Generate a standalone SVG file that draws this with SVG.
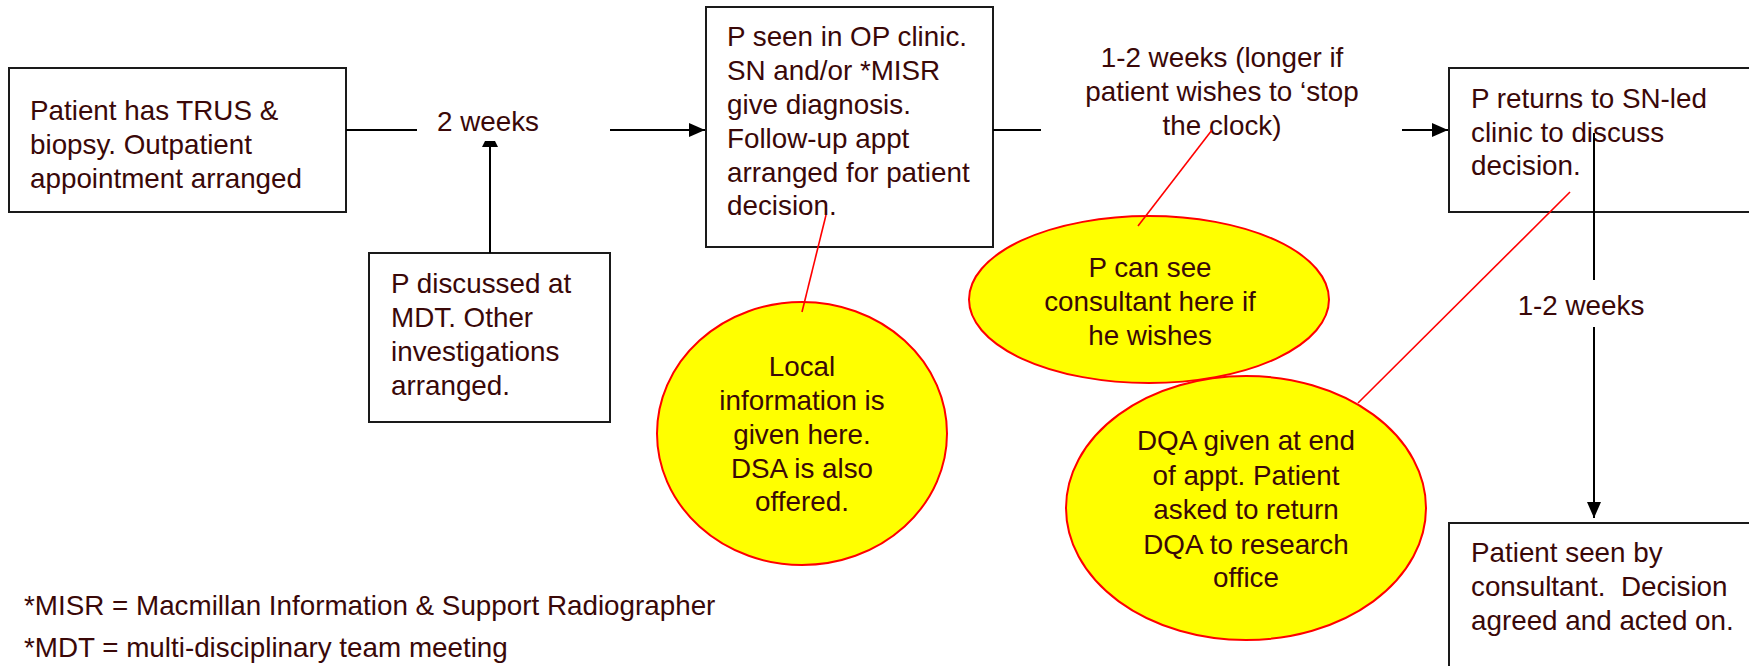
<svg xmlns="http://www.w3.org/2000/svg" width="1749" height="666" viewBox="0 0 1749 666">
  <style>
    text { font-family: "Liberation Sans", Arial, sans-serif; font-size: 27.8px; fill: #3a0808; white-space: pre; }
    .mid { text-anchor: middle; }
    .box { fill: #ffffff; stroke: #1a1a1a; stroke-width: 2; }
    .bubble { fill: #ffff00; stroke: #ff0000; stroke-width: 2; }
    .flow { fill: none; stroke: #000000; stroke-width: 2; }
    .callout { fill: none; stroke: #ff0000; stroke-width: 1.6; }
  </style>
  <defs>
    <marker id="arrow" viewBox="0 0 16 14" refX="16" refY="7" markerWidth="16" markerHeight="14" markerUnits="userSpaceOnUse" orient="auto">
      <path d="M0,0 L16,7 L0,14 Z" fill="#000000"/>
    </marker>
    <marker id="stub" viewBox="0 0 6 16" refX="6" refY="8" markerWidth="6" markerHeight="16" markerUnits="userSpaceOnUse" orient="auto">
      <path d="M0,0 L6,3 L6,13 L0,16 Z" fill="#000000"/>
    </marker>
  </defs>

  <rect width="1749" height="666" fill="#ffffff"/>

  <!-- process boxes -->
  <g id="biopsy">
    <rect class="box" x="9" y="68" width="337" height="144"/>
    <text x="30" y="120">Patient has TRUS &amp;</text>
    <text x="30" y="154">biopsy. Outpatient</text>
    <text x="30" y="188">appointment arranged</text>
  </g>

  <g id="mdt">
    <rect class="box" x="369" y="253" width="241" height="169"/>
    <text x="391" y="293">P discussed at</text>
    <text x="391" y="327">MDT. Other</text>
    <text x="391" y="361">investigations</text>
    <text x="391" y="395">arranged.</text>
  </g>

  <g id="op-clinic">
    <rect class="box" x="706" y="7" width="287" height="240"/>
    <text x="727" y="46">P seen in OP clinic.</text>
    <text x="727" y="80">SN and/or *MISR</text>
    <text x="727" y="114">give diagnosis.</text>
    <text x="727" y="148">Follow-up appt</text>
    <text x="727" y="182">arranged for patient</text>
    <text x="727" y="215">decision.</text>
  </g>

  <g id="sn-clinic">
    <rect class="box" x="1449" y="68" width="320" height="144"/>
    <text x="1471" y="108">P returns to SN-led</text>
    <text x="1471" y="142">clinic to discuss</text>
    <text x="1471" y="175">decision.</text>
  </g>

  <g id="consultant">
    <rect class="box" x="1449" y="523" width="320" height="160"/>
    <text x="1471" y="562">Patient seen by</text>
    <text x="1471" y="596">consultant.  Decision</text>
    <text x="1471" y="630">agreed and acted on.</text>
  </g>

  <!-- information bubbles -->
  <g id="local-info">
    <ellipse class="bubble" cx="802" cy="433.5" rx="145" ry="131.5"/>
    <text class="mid" x="802" y="376">Local</text>
    <text class="mid" x="802" y="410">information is</text>
    <text class="mid" x="802" y="444">given here.</text>
    <text class="mid" x="802" y="478">DSA is also</text>
    <text class="mid" x="802" y="511">offered.</text>
  </g>

  <g id="see-consultant">
    <ellipse class="bubble" cx="1149" cy="299.5" rx="180" ry="83.5"/>
    <text class="mid" x="1150" y="277">P can see</text>
    <text class="mid" x="1150" y="311">consultant here if</text>
    <text class="mid" x="1150" y="345">he wishes</text>
  </g>

  <g id="dqa">
    <ellipse class="bubble" cx="1246" cy="508" rx="180" ry="132"/>
    <text class="mid" x="1246" y="450">DQA given at end</text>
    <text class="mid" x="1246" y="485">of appt. Patient</text>
    <text class="mid" x="1246" y="519">asked to return</text>
    <text class="mid" x="1246" y="554">DQA to research</text>
    <text class="mid" x="1246" y="587">office</text>
  </g>

  <!-- timing labels -->
  <g id="labels">
    <text x="437" y="131">2 weeks</text>
    <text class="mid" x="1222" y="67">1-2 weeks (longer if</text>
    <text class="mid" x="1222" y="101">patient wishes to ‘stop</text>
    <text class="mid" x="1222" y="135">the clock)</text>
    <text class="mid" x="1581" y="315">1-2 weeks</text>
  </g>

  <!-- connectors -->
  <g id="connectors">
    <line class="flow" x1="346" y1="130" x2="417" y2="130"/>
    <line class="flow" x1="610" y1="130" x2="705" y2="130" marker-end="url(#arrow)"/>
    <line class="flow" x1="490" y1="253" x2="490" y2="141" marker-end="url(#stub)"/>
    <line class="flow" x1="993" y1="130" x2="1041" y2="130"/>
    <line class="flow" x1="1402" y1="130" x2="1448" y2="130" marker-end="url(#arrow)"/>
    <line class="flow" x1="1594" y1="133" x2="1594" y2="280"/>
    <line class="flow" x1="1594" y1="327" x2="1594" y2="518" marker-end="url(#arrow)"/>
    <line class="callout" x1="826" y1="215" x2="802" y2="312"/>
    <line class="callout" x1="1212" y1="130" x2="1138" y2="226"/>
    <line class="callout" x1="1570" y1="192" x2="1358" y2="403"/>
  </g>

  <!-- footnotes -->
  <g id="notes">
    <text x="24" y="615">*MISR = Macmillan Information &amp; Support Radiographer</text>
    <text x="24" y="657">*MDT = multi-disciplinary team meeting</text>
  </g>
</svg>
